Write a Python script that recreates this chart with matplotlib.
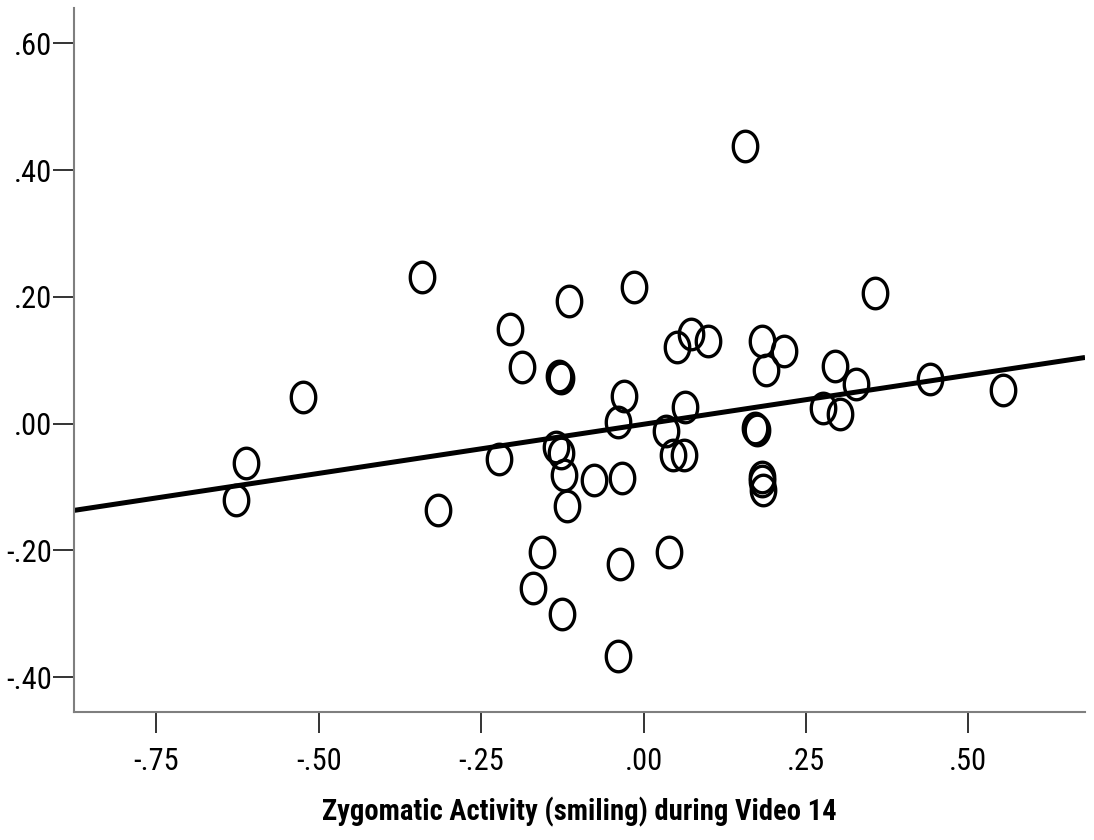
import numpy as np
import matplotlib
matplotlib.use("Agg")
import matplotlib.pyplot as plt
from matplotlib.path import Path

# values
zyg_x = [-0.628, -0.6125, -0.5247, -0.3414, -0.3168, -0.2229, -0.2051, -0.1874,
         -0.1559, -0.1700, -0.1254, -0.1297, -0.1266, -0.1150, -0.1351, -0.1266,
         -0.1223, -0.1181, -0.0761, -0.0396, -0.0303, -0.0339, -0.0365, -0.0391,
         -0.0149, 0.0343, 0.0394, 0.0447, 0.0621, 0.0508, 0.0728, 0.0995,
         0.0636, 0.1560, 0.1722, 0.1753, 0.1817, 0.1880, 0.2156, 0.1822,
         0.1830, 0.1833, 0.2769, 0.2954, 0.3031, 0.3277, 0.3562, 0.4409, 0.5541]
resp_y = [-0.121, -0.0627, 0.0415, 0.2310, -0.1369, -0.0564, 0.1489, 0.0889,
          -0.2024, -0.2593, -0.3003, 0.0747, 0.0715, 0.1939, -0.0374, -0.0469,
          -0.0816, -0.1298, -0.0895, 0.0025, 0.0434, -0.0853, -0.2211, -0.3659,
          0.2157, -0.0122, -0.2027, -0.0489, -0.0489, 0.1210, 0.1418, 0.1304,
          0.0265, 0.4386, -0.0066, -0.0098, 0.1307, 0.0842, 0.1138, -0.0840,
          -0.0903, -0.1053, 0.0249, 0.0913, 0.0158, 0.0632, 0.2053, 0.0711, 0.0526]

# fit line
fit_intercept = -0.001
fit_slope = 0.155

x_ticks = [-0.75, -0.50, -0.25, 0.00, 0.25, 0.50]
x_tick_labels = ["-.75", "-.50", "-.25", ".00", ".25", ".50"]
y_ticks = [-0.40, -0.20, 0.00, 0.20, 0.40, 0.60]
y_tick_labels = ["-.40", "-.20", ".00", ".20", ".40", ".60"]
x_title = "Zygomatic Activity (smiling) during Video 14"

plt.rcParams['font.family'] = ['Liberation Sans Narrow', 'Roboto Condensed',
                               'DejaVu Sans']
plt.rcParams['font.stretch'] = 'condensed'

# slightly tall ellipse marker, like the source
t = np.linspace(0, 2 * np.pi, 60)
ell = Path(np.column_stack([0.8 * np.cos(t), np.sin(t)]), closed=True)

fig = plt.figure(figsize=(10.94, 8.40), dpi=100)
ax = fig.add_axes([0.0676, 0.1524, 0.9242, 0.8381])

ax.plot(zyg_x, resp_y, linestyle='none', marker=ell, markersize=22,
        markerfacecolor='none', markeredgecolor='black', markeredgewidth=2.4)

xlim = (-0.877, 0.6797)
xs = np.array(xlim)
ax.plot(xs, fit_intercept + fit_slope * xs, color='black', lw=3.6,
        solid_capstyle='butt')

ax.set_xlim(*xlim)
ax.set_ylim(-0.455, 0.6558)
ax.set_xticks(x_ticks)
ax.set_xticklabels(x_tick_labels)
ax.set_yticks(y_ticks)
ax.set_yticklabels(y_tick_labels)

for s in ['top', 'right']:
    ax.spines[s].set_visible(False)
for s in ['left', 'bottom']:
    ax.spines[s].set_color('#7f7f7f')
    ax.spines[s].set_linewidth(1.5)

ax.tick_params(axis='both', direction='out', length=15, width=1.4,
               color='#333333', labelsize=22, labelcolor='black')
ax.tick_params(axis='x', pad=10)
ax.tick_params(axis='y', pad=1)

ax.set_xlabel(x_title, fontsize=20.6, fontweight='bold', labelpad=15)

fig.savefig("out.png", dpi=100)
